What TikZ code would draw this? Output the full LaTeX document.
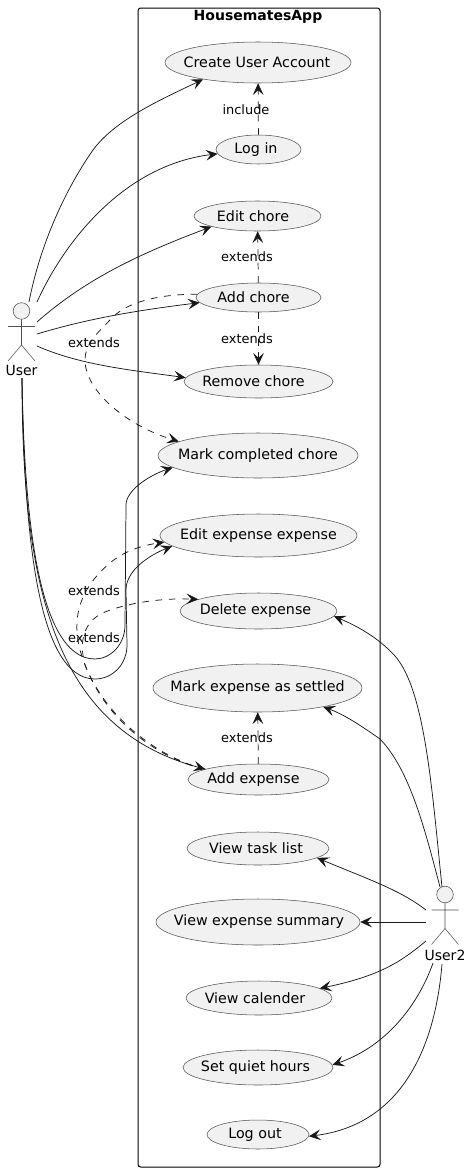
\documentclass[tikz,border=0pt]{standalone}
\usepackage{fontspec}
\setmainfont{DejaVu Sans}
\usetikzlibrary{arrows.meta,shapes.geometric}
\definecolor{ink}{HTML}{181818}
\definecolor{uc}{HTML}{F1F1F1}
\tikzset{
  usecase/.style={ellipse,draw=ink!75,fill=uc,line width=0.4pt,inner sep=0pt},
  uctext/.style={font=\fontsize{10.7}{12}\selectfont,inner sep=0pt,text=black},
  frame/.style={draw=black,line width=0.75pt,rounded corners=2pt},
  assoc/.style={draw=ink,line width=0.55pt,-{Stealth[length=8.8pt,width=8pt,inset=3.6pt]}},
  dep/.style={assoc,dash pattern=on 5pt off 5pt},
  lbl/.style={font=\fontsize{9.7}{11}\selectfont,inner sep=0pt,text=black},
  actorname/.style={font=\fontsize{10.5}{12}\selectfont,inner sep=0pt,text=black},
  stick/.style={draw=ink!75,line width=0.4pt},
  title/.style={font=\bfseries\fontsize{10.5}{12}\selectfont,inner sep=0pt}
}
\newcommand{\uc}[7]{\node[usecase,minimum width=#4*0.75pt,minimum height=#5*0.75pt,label={[uctext,xshift=#7*0.75pt]center:#6}] (#1) at (#2,#3) {};}
\newcommand{\stickman}[2]{%
  \draw[stick,fill=uc] (#1,#2) circle [radius=8.3*0.75pt];
  \draw[stick] (#1,#2+8.3) -- (#1,#2+34) (#1-13.5,#2+15.5) -- (#1+13.5,#2+15.5) (#1-13.5,#2+50) -- (#1,#2+34) -- (#1+13.5,#2+50);
}
\begin{document}
\begin{tikzpicture}[x=0.75pt,y=-0.75pt]
\useasboundingbox (0,0) rectangle (471,1171);
\fill[white] (0,0) rectangle (471,1171);
\draw[frame] (138,8) rectangle (380,1167);
\node[title] (apptitle) at (258,17) {HousematesApp};
\uc{create}{258}{62.5}{186}{41}{Create User Account}{-1}
\uc{login}{258.5}{149.5}{85}{29}{Log in}{-2.5}
\uc{editchore}{257.5}{216}{127}{30}{Edit chore}{-4.5}
\uc{addchore}{258.5}{297.5}{125}{29}{Add chore}{-5}
\uc{removechore}{258.5}{381.5}{149}{33}{Remove chore}{-5}
\uc{markchore}{258}{455.5}{200}{45}{Mark completed chore}{0}
\uc{editexp}{258.5}{535.5}{197}{43}{Edit expense expense}{0}
\uc{delexp}{258.5}{611}{157}{36}{Delete expense}{-3}
\uc{settled}{257.5}{688}{209}{48}{Mark expense as settled}{0}
\uc{addexp}{258.5}{779.5}{141}{31}{Add expense}{-5}
\uc{tasks}{258}{848.5}{142}{33}{View task list}{-2}
\uc{summary}{258}{922}{204}{46}{View expense summary}{1}
\uc{calender}{259}{998}{146}{34}{View calender}{-4}
\uc{quiet}{258}{1067.5}{150}{35}{Set quiet hours}{-2.5}
\uc{logout}{258}{1134.5}{102}{29}{Log out}{-3}
\stickman{21.5}{311}
\node[actorname] (user) at (21.5,370) {User};
\stickman{445}{894.5}
\node[actorname] (user2) at (445,955) {User2};
\coordinate (ua) at (29,302);
\coordinate (ub) at (37,302);
\coordinate (uc) at (37,322);
\coordinate (ud) at (37,334);
\coordinate (ue) at (37,346);
\coordinate (uf) at (22,378);
\coordinate (va) at (442,887);
\coordinate (vb) at (440,887);
\coordinate (vc) at (426,910);
\coordinate (vd) at (426,922);
\coordinate (ve) at (426,941);
\coordinate (vf) at (433,963);
\coordinate (vg) at (442,964);
% User associations
\draw[assoc] (ua) .. controls (40,245) and (65,190) .. (93,150) .. controls (115,120) and (160,100) .. (create.197.5);
\draw[assoc] (ub) .. controls (65,240) and (125,165) .. (login.186);
\draw[assoc] (uc) .. controls (90,275) and (150,250) .. (editchore.193);
\draw[assoc] (ud) .. controls (90,318) and (140,310) .. (addchore.185);
\draw[assoc] (ue) .. controls (80,365) and (130,370) .. (removechore.177);
\draw[assoc] (uf) .. controls (24,500) and (35,659) .. (95,659) .. controls (110,659) and (125,645) .. (125,625) -- (126,505) .. controls (126,490) and (150,475) .. (markchore.188);
\draw[assoc] (uf) .. controls (24,520) and (35,679) .. (95,679) .. controls (112,679) and (127,665) .. (127,645) -- (126,590) .. controls (126,570) and (150,555) .. (editexp.187.5);
\draw[assoc] (uf) .. controls (22,600) and (60,730) .. (addexp.169.5);
% dependencies
\draw[dep] (login) -- (create);
\draw[dep] (addchore) -- (editchore);
\draw[dep] (addchore) -- (removechore);
\draw[dep] (addexp) -- (settled);
\draw[dep] (addchore.177) .. controls (165,294) and (130,300) .. (113,317) .. controls (95,335) and (85,345) .. (85,360) .. controls (85,390) and (125,425) .. (markchore.170);
\draw[dep] (addexp.169.5) .. controls (165,760) and (100,720) .. (80,650) .. controls (72,620) and (78,590) .. (110,563) .. controls (125,550) and (145,545) .. (editexp.184);
\draw[dep] (addexp.169.5) .. controls (170,762) and (110,730) .. (85,665) .. controls (78,640) and (85,620) .. (105,612) .. controls (130,602) and (165,598) .. (delexp.169);
% User2 associations
\draw[assoc] (va) .. controls (432,790) and (425,690) .. (395,656) .. controls (378,637) and (355,625) .. (delexp.-4);
\draw[assoc] (vb) .. controls (425,830) and (410,770) .. (380,739) .. controls (360,725) and (345,715) .. (settled.-16);
\draw[assoc] (vc) .. controls (400,890) and (370,880) .. (tasks.-9);
\draw[assoc] (vd) -- (summary);
\draw[assoc] (ve) .. controls (405,958) and (385,975) .. (calender.9);
\draw[assoc] (vf) .. controls (420,1000) and (390,1045) .. (quiet.2.5);
\draw[assoc] (vg) .. controls (435,1050) and (400,1125) .. (logout.-2);
% labels
\node[lbl] (linc) at (246,110) {include};
\node[lbl] (le1) at (247,257) {extends};
\node[lbl] (le2) at (247,339) {extends};
\node[lbl] (le3) at (94,343) {extends};
\node[lbl] (le4) at (94,591) {extends};
\node[lbl] (le5) at (94,638) {extends};
\node[lbl] (le6) at (247,738) {extends};
\end{tikzpicture}
\end{document}
